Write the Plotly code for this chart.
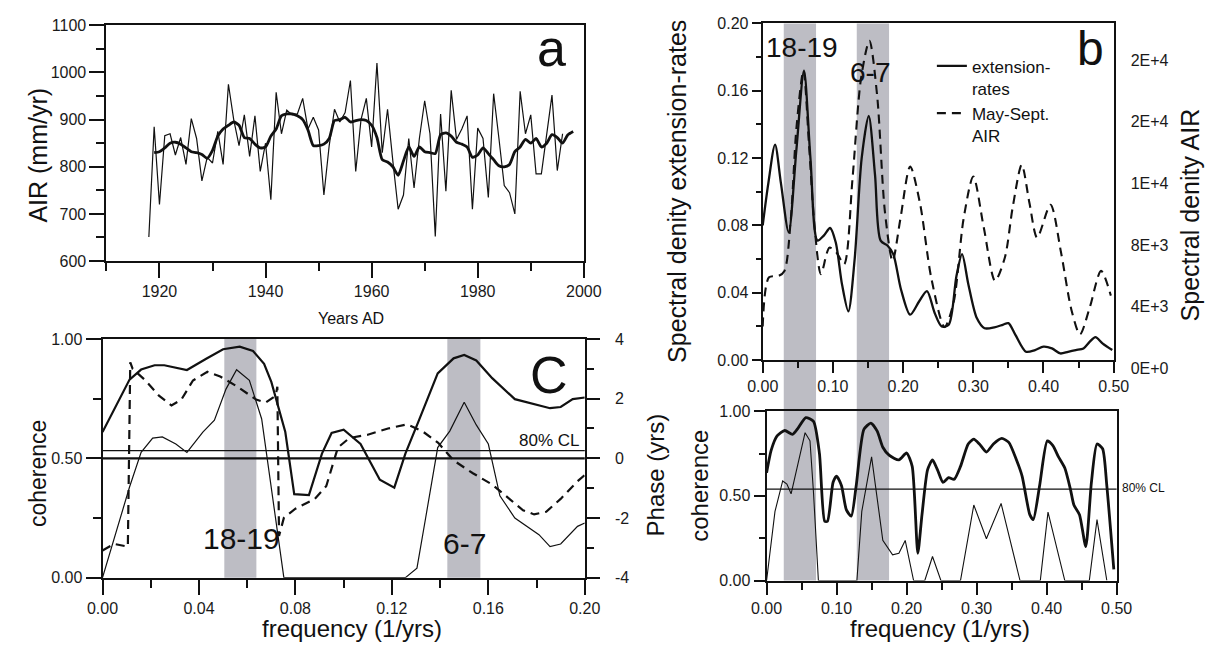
import plotly.graph_objects as go

W, H = 1226, 662
FONT = "Liberation Sans, Arial, sans-serif"
INK = "#111111"
BAND_COLOR = "#bdbdc4"

# ---------------- Panel a : annual AIR ----------------
years = list(range(1918, 1997))
air = [651, 885,
       720, 866, 870, 825, 862, 805, 902, 860, 770, 820,
       808, 875, 805, 975, 900, 845, 910, 822, 908, 790,
       850, 730, 958, 870, 920, 910, 912, 945, 880, 905,
       878, 740, 845, 922, 895, 915, 983, 790, 900, 945,
       842, 1020, 830, 922, 812, 710, 740, 860, 755, 860,
       940, 870, 652, 912, 748, 962, 858, 880, 908, 710,
       882, 860, 735, 955, 860, 760, 745, 700, 960, 870,
       910, 785, 785, 870, 952, 792, 870]
smooth_years = list(range(1919, 1999))
air_smooth = [830,
              832, 840, 850, 852, 848, 840, 832, 830, 826, 818,
              835, 865, 880, 888, 895, 888, 862, 860, 848, 840,
              842, 865, 880, 908, 912, 912, 908, 900, 878, 845,
              845, 848, 860, 898, 900, 905, 895, 898, 900, 898,
              888, 862, 815, 810, 800, 782, 812, 842, 822, 842,
              832, 830, 828, 868, 872, 865, 852, 848, 842, 820,
              825, 840, 828, 815, 802, 800, 805, 832, 842, 858,
              850, 860, 842, 850, 868, 862, 850, 868, 875]

# ---------------- Panel c : coherence / phase 0-0.2 ----------------
fc_coh = [0, 0.0112, 0.016, 0.0216, 0.0256, 0.035, 0.043, 0.050, 0.0569, 0.0624, 0.067,
          0.070, 0.0758, 0.0795, 0.0856, 0.091, 0.095, 0.10, 0.107, 0.115, 0.121, 0.1256,
          0.131, 0.139, 0.1456, 0.150, 0.155, 0.1616, 0.171, 0.179, 0.1856, 0.19, 0.195, 0.2]
coh_c = [0.61, 0.83, 0.872, 0.89, 0.89, 0.87, 0.917, 0.957, 0.968, 0.95, 0.896,
         0.82, 0.61, 0.35, 0.346, 0.52, 0.606, 0.62, 0.56, 0.41, 0.377, 0.52,
         0.654, 0.856, 0.919, 0.933, 0.91, 0.836, 0.748, 0.728, 0.71, 0.715, 0.748, 0.755]
fc_thin = [0, 0.0112, 0.016, 0.0208, 0.0248, 0.0304, 0.035, 0.0416, 0.0464, 0.0512, 0.0556,
           0.0609, 0.066, 0.0752, 0.1256, 0.1304, 0.134, 0.139, 0.144, 0.150, 0.155, 0.160,
           0.1648, 0.171, 0.181, 0.1856, 0.19, 0.197, 0.2]
coh_c_thin = [0, 0.38, 0.525, 0.585, 0.59, 0.56, 0.525, 0.61, 0.66, 0.79, 0.871,
              0.827, 0.665, 0, 0, 0.04, 0.25, 0.545, 0.614, 0.735, 0.64, 0.56,
              0.343, 0.25, 0.18, 0.13, 0.141, 0.215, 0.229]
fc_phase = [0, 0.0048, 0.0105, 0.0115, 0.0125, 0.0178, 0.0234, 0.0286, 0.0327, 0.0375,
            0.0435, 0.0488, 0.0556, 0.0637, 0.0677, 0.0718, 0.0725, 0.0732, 0.0752, 0.080,
            0.088, 0.0928, 0.0976, 0.1024, 0.110, 0.1184, 0.1264, 0.1328, 0.1392, 0.1456,
            0.1536, 0.1616, 0.168, 0.1744, 0.179, 0.184, 0.19, 0.197, 0.2]
phase_c = [-3.09, -2.87, -2.96, 3.22, 3.0, 2.61, 2.10, 1.77, 1.97, 2.61,
           2.90, 2.74, 2.42, 1.97, 1.87, 2.10, 2.40, -2.6, -2.0, -1.69,
           -1.36, -0.93, 0.36, 0.68, 0.79, 1.0, 1.14, 0.9, 0.52, -0.07,
           -0.5, -0.88, -1.31, -1.74, -1.88, -1.79, -1.36, -0.77, -0.56]
CL80_C = 0.532
PHASE_ZERO = 0
BANDS_C = [(0.0505, 0.0638), (0.143, 0.1567)]

# ---------------- Panel b top : spectra ----------------
fb_ext = [0, 0.008, 0.0176, 0.026, 0.037, 0.048, 0.0588, 0.068, 0.078, 0.087, 0.096,
          0.104, 0.113, 0.122, 0.131, 0.141, 0.151, 0.160, 0.168, 0.178, 0.186, 0.197,
          0.21, 0.223, 0.234, 0.245, 0.255, 0.265, 0.276, 0.284, 0.293, 0.305, 0.316,
          0.33, 0.342, 0.35, 0.36, 0.375, 0.388, 0.40, 0.412, 0.424, 0.435, 0.446,
          0.457, 0.466, 0.474, 0.484, 0.498]
spec_ext = [0.080, 0.105, 0.128, 0.105, 0.076, 0.125, 0.172, 0.12, 0.071, 0.074, 0.0785,
            0.07, 0.045, 0.029, 0.06, 0.12, 0.145, 0.11, 0.071, 0.068, 0.063, 0.042,
            0.027, 0.035, 0.041, 0.028, 0.02, 0.021, 0.05, 0.063, 0.045, 0.025, 0.019,
            0.0195, 0.021, 0.022, 0.015, 0.005, 0.006, 0.008, 0.007, 0.004, 0.005, 0.006,
            0.007, 0.011, 0.0137, 0.01, 0.006]
fb_air = [0, 0.009, 0.023, 0.031, 0.040, 0.048, 0.058, 0.066, 0.074, 0.083, 0.095,
          0.105, 0.116, 0.128, 0.140, 0.152, 0.163, 0.174, 0.185, 0.196, 0.210, 0.224,
          0.240, 0.259, 0.272, 0.286, 0.300, 0.315, 0.331, 0.345, 0.356, 0.369, 0.380,
          0.391, 0.410, 0.425, 0.440, 0.452, 0.466, 0.482, 0.496]
spec_air = [2190, 5380, 5480, 5800, 9140, 15050, 18810, 13980, 8600, 5590, 7310,
            6990, 6240, 11830, 18280, 20750, 17200, 9680, 6450, 9140, 12580, 10210,
            5380, 2150, 3760, 9140, 11930, 8600, 5160, 6670, 9890, 12690, 10210,
            7960, 10100, 6990, 3230, 1680, 3440, 5800, 4190]
air_tickvals = [0, 4000, 8000, 12000, 16000, 20000]
air_ticktext = ["0E+0", "4E+3", "8E+3", "1E+4", "2E+4", "2E+4"]
BANDS_B = [(0.030, 0.076), (0.134, 0.180)]

# ---------------- Panel b bottom : coherence 0-0.5 ----------------
fbb_coh = [0, 0.0066, 0.015, 0.026, 0.037, 0.045, 0.056, 0.067, 0.0755, 0.083, 0.087,
           0.095, 0.10, 0.107, 0.114, 0.121, 0.128, 0.139, 0.149, 0.158, 0.166, 0.175,
           0.189, 0.20, 0.208, 0.216, 0.222, 0.23, 0.237, 0.244, 0.252, 0.26, 0.268,
           0.277, 0.288, 0.296, 0.304, 0.314, 0.324, 0.336, 0.346, 0.357, 0.365, 0.376,
           0.381, 0.39, 0.401, 0.409, 0.417, 0.426, 0.434, 0.439, 0.447, 0.456, 0.464,
           0.472, 0.48, 0.486, 0.496]
coh_b = [0.636, 0.77, 0.854, 0.886, 0.863, 0.90, 0.962, 0.94, 0.75, 0.35, 0.35,
         0.58, 0.617, 0.56, 0.417, 0.38, 0.56, 0.892, 0.93, 0.882, 0.787, 0.74,
         0.712, 0.753, 0.674, 0.161, 0.389, 0.655, 0.712, 0.655, 0.579, 0.607, 0.598,
         0.674, 0.806, 0.835, 0.806, 0.759, 0.806, 0.839, 0.816, 0.712, 0.617, 0.389,
         0.36, 0.56, 0.825, 0.797, 0.73, 0.664, 0.54, 0.446, 0.389, 0.20, 0.58,
         0.806, 0.778, 0.56, 0.066]
fbb_thin = [0, 0.012, 0.023, 0.029, 0.035, 0.045, 0.055, 0.062, 0.067, 0.074, 0.129,
            0.136, 0.15, 0.158, 0.166, 0.18, 0.189, 0.198, 0.21, 0.226, 0.237, 0.249,
            0.277, 0.296, 0.314, 0.335, 0.362, 0.391, 0.402, 0.426, 0.461, 0.472, 0.486]
coh_b_thin = [0, 0.408, 0.588, 0.57, 0.512, 0.693, 0.873, 0.825, 0.52, 0, 0,
              0.408, 0.73, 0.484, 0.237, 0.152, 0.161, 0.237, 0, 0, 0.142, 0,
              0, 0.446, 0.247, 0.455, 0, 0, 0.404, 0, 0, 0.36, 0]
CL80_B = 0.54


def px(x):
    return x / W


def py(y):
    return 1 - y / H


tickfont = dict(family=FONT, size=16, color="#1a1a1a")
base = dict(showline=True, linecolor=INK, linewidth=2, ticks="outside", tickcolor=INK,
            tickwidth=2, showgrid=False, zeroline=False, tickfont=tickfont)

fig = go.Figure()

# panel a
fig.add_trace(go.Scatter(x=years, y=air, mode="lines", line=dict(color=INK, width=1.2),
                         xaxis="x", yaxis="y", showlegend=False))
fig.add_trace(go.Scatter(x=smooth_years, y=air_smooth, mode="lines",
                         line=dict(color=INK, width=2.8, shape="spline", smoothing=0.6),
                         xaxis="x", yaxis="y", showlegend=False))
# panel c
fig.add_trace(go.Scatter(x=fc_coh, y=coh_c, mode="lines", line=dict(color=INK, width=2.2),
                         xaxis="x2", yaxis="y2", showlegend=False))
fig.add_trace(go.Scatter(x=fc_thin, y=coh_c_thin, mode="lines", line=dict(color=INK, width=1.2),
                         xaxis="x2", yaxis="y2", showlegend=False))
fig.add_trace(go.Scatter(x=fc_phase, y=phase_c, mode="lines",
                         line=dict(color=INK, width=2.2, dash="9px,6px"),
                         xaxis="x2", yaxis="y3", showlegend=False))
# panel b top
fig.add_trace(go.Scatter(x=fb_ext, y=spec_ext, mode="lines", name="extension-<br>rates",
                         line=dict(color=INK, width=2.3, shape="spline", smoothing=0.8),
                         xaxis="x3", yaxis="y4", showlegend=True))
fig.add_trace(go.Scatter(x=fb_air, y=spec_air, mode="lines", name="May-Sept.<br>AIR",
                         line=dict(color=INK, width=2.1, shape="spline", smoothing=0.8,
                                   dash="9px,6px"),
                         xaxis="x3", yaxis="y5", showlegend=True))
# panel b bottom
fig.add_trace(go.Scatter(x=fbb_coh, y=coh_b, mode="lines",
                         line=dict(color=INK, width=2.8, shape="spline", smoothing=0.6),
                         xaxis="x4", yaxis="y7", showlegend=False))
fig.add_trace(go.Scatter(x=fbb_thin, y=coh_b_thin, mode="lines", line=dict(color=INK, width=1.1),
                         xaxis="x4", yaxis="y7", showlegend=False))

shapes = []
for f0, f1 in BANDS_C:
    shapes.append(dict(type="rect", xref="x2", yref="y2 domain", x0=f0, x1=f1, y0=0, y1=1,
                       fillcolor=BAND_COLOR, line_width=0, layer="below"))
for f0, f1 in BANDS_B:
    shapes.append(dict(type="rect", xref="x3", yref="paper", x0=f0, x1=f1,
                       y0=py(595), y1=py(16), fillcolor=BAND_COLOR, line_width=0, layer="below"))
shapes.append(dict(type="line", xref="x2 domain", yref="y2", x0=0, x1=1, y0=CL80_C, y1=CL80_C,
                   line=dict(color=INK, width=1.3)))
shapes.append(dict(type="line", xref="x2 domain", yref="y3", x0=0, x1=1, y0=PHASE_ZERO,
                   y1=PHASE_ZERO, line=dict(color=INK, width=2.4)))
shapes.append(dict(type="line", xref="x4 domain", yref="y7", x0=0, x1=1, y0=CL80_B, y1=CL80_B,
                   line=dict(color=INK, width=1.3)))


def ann(text, x, y, size, angle=0):
    return dict(text=text, x=px(x), y=py(y), xref="paper", yref="paper", showarrow=False,
                xanchor="center", yanchor="middle", textangle=angle,
                font=dict(family=FONT, size=size, color=INK))


annotations = [
    ann("AIR (mm/yr)", 23, 153, 25, -90),
    ann("Years AD", 345, 323, 16),
    ann("a", 551, 42, 52),
    ann("C", 548, 381, 52),
    ann("coherence", 22, 484, 23, -90),
    ann("Phase (yrs)", 658, 485, 24, -90),
    ann("frequency (1/yrs)", 346, 645, 24),
    ann("18-19", 232, 551, 30),
    ann("6-7", 461, 556, 30),
    ann("80% CL", 548, 449, 17),
    ann("Spectral denity extension-rates", 680, 191, 25, -90),
    ann("Spectral denity AIR", 1207, 215, 25, -90),
    ann("b", 1105, 42, 48),
    ann("18-19", 808, 41, 28),
    ann("6-7", 878, 67, 28),
    ann("coherence", 703, 497, 24, -90),
    ann("80% CL", 1160, 499, 12),
    ann("frequency (1/yrs)", 950, 645, 24),
]

fig.update_layout(
    width=W, height=H, margin=dict(l=0, r=0, t=0, b=0),
    paper_bgcolor="white", plot_bgcolor="rgba(0,0,0,0)",
    font=dict(family=FONT, color=INK),
    shapes=shapes, annotations=annotations,
    legend=dict(x=px(942), y=py(42), xanchor="left", yanchor="top", bgcolor="rgba(0,0,0,0)",
                font=dict(family=FONT, size=17, color=INK), valign="top",
                tracegroupgap=0, itemwidth=30),
    # panel a
    xaxis=dict(base, domain=[px(93), px(584)], anchor="y", range=[1910, 2000],
               tickmode="array", tickvals=[1920, 1940, 1960, 1980, 2000], ticklen=15, mirror=True,
               minor=dict(tickvals=[1910, 1930, 1950, 1970, 1990], ticklen=8, tickwidth=2,
                          tickcolor=INK, ticks="outside")),
    yaxis=dict(base, domain=[py(263), py(18)], anchor="x", range=[600, 1100],
               tickmode="linear", tick0=600, dtick=100, ticklen=15, mirror=True,
               minor=dict(dtick=50, ticklen=8, tickwidth=2, tickcolor=INK, ticks="outside")),
    # panel c
    xaxis2=dict(base, domain=[px(89), px(585)], anchor="y2", range=[0, 0.2],
                tickmode="linear", tick0=0, dtick=0.04, tickformat=".2f", ticklen=15, mirror=True,
                minor=dict(dtick=0.02, ticklen=8, tickwidth=2, tickcolor=INK, ticks="outside")),
    yaxis2=dict(base, domain=[py(592), py(344)], anchor="x2", range=[0, 1],
                tickmode="array", tickvals=[0, 0.5, 1], ticktext=["0.00", "0.50", "1.00"],
                ticklen=15, mirror=True,
                minor=dict(tickvals=[0.25, 0.75], ticklen=8, tickwidth=2, tickcolor=INK,
                           ticks="outside")),
    yaxis3=dict(base, overlaying="y2", anchor="x2", side="right", range=[-4, 4],
                tickmode="array", tickvals=[-4, -2, 0, 2, 4], ticktext=["-4", "-2", "0", "2", "4"],
                ticklen=13, ticklabelstandoff=12,
                minor=dict(tickvals=[-3, -1, 1, 3], ticklen=7, tickwidth=2, tickcolor=INK,
                           ticks="outside")),
    # panel b top
    xaxis3=dict(base, domain=[px(768), px(1129)], anchor="y4", range=[0, 0.5],
                tickmode="linear", tick0=0, dtick=0.1, tickformat=".2f", ticklen=11, mirror=True,
                minor=dict(dtick=0.05, ticklen=6, tickwidth=2, tickcolor=INK, ticks="outside")),
    yaxis4=dict(base, domain=[py(366), py(16)], anchor="x3", range=[0, 0.2],
                tickmode="linear", tick0=0, dtick=0.04, tickformat=".2f", ticklen=9, mirror=True,
                minor=dict(dtick=0.02, ticklen=5, tickwidth=2, tickcolor=INK, ticks="outside")),
    yaxis5=dict(base, overlaying="y4", anchor="x3", side="right", range=[0, 21875],
                tickmode="array", tickvals=air_tickvals, ticktext=air_ticktext,
                ticks="", showline=False, ticklabelshift=8, ticklabelstandoff=16),
    yaxis6=dict(base, overlaying="y4", anchor="x3", side="right", range=[0, 0.2],
                tickmode="linear", tick0=0, dtick=0.02, ticklen=10, showticklabels=False),
    # panel b bottom
    xaxis4=dict(base, domain=[px(772), px(1132)], anchor="y7", range=[0, 0.5],
                tickmode="linear", tick0=0, dtick=0.1, tickformat=".2f", ticklen=12, mirror=True,
                minor=dict(dtick=0.05, ticklen=7, tickwidth=2, tickcolor=INK, ticks="outside")),
    yaxis7=dict(base, domain=[py(595), py(419)], anchor="x4", range=[0, 1],
                tickmode="array", tickvals=[0, 0.5, 1], ticktext=["0.00", "0.50", "1.00"],
                ticklen=11, mirror=True,
                minor=dict(tickvals=[0.25, 0.75], ticklen=6, tickwidth=2, tickcolor=INK,
                           ticks="outside")),
)

fig.write_html("out.html")
